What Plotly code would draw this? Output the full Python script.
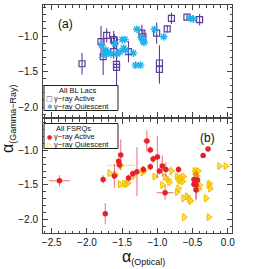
import plotly.graph_objects as go

# ---- Data ----
# Panel (a): BL Lacs
bl_active_x = [-2.07, -1.80, -1.77, -1.72, -1.62, -1.61, -1.62, -1.58, -1.58, -1.41,
               -1.22, -1.205, -1.01, -0.97, -0.97, -0.86, -0.80, -0.58, -0.40]
bl_active_y = [-1.39, -1.08, -1.29, -0.99, -1.05, -1.07, -1.22, -1.40, -1.44, -1.22,
               -0.96, -1.01, -0.96, -1.38, -1.47, -0.90, -0.75, -0.735, -0.77]
bl_active_yerr = [0.15, 0.22, 0.26, 0.10, 0.12, 0.10, 0.10, 0.15, 0.30, 0.15,
                  0.12, 0.08, 0.15, 0.25, 0.20, 0.05, 0.08, 0.04, 0.08]

bl_quiet_x = [-1.79, -1.73, -1.75, -1.70, -1.66, -1.60, -1.57, -1.53, -1.50, -1.46,
              -1.48, -1.45, -1.34, -1.31, -1.24, -1.29, -1.23, -1.20, -1.19, -1.04,
              -0.91, -0.53, -0.49]
bl_quiet_y = [-1.13, -1.20, -1.25, -1.24, -1.25, -1.11, -1.25, -1.22, -1.05, -1.05,
              -1.17, -1.20, -1.24, -1.41, -1.41, -0.905, -1.02, -1.07, -1.09, -0.905,
              -1.01, -0.75, -0.76]

# Panel (b): FSRQs
fsrq_active_x = [-2.39, -1.77, -1.74, -1.61, -1.55, -1.52, -1.54, -1.41, -1.35, -1.29,
                 -1.20, -1.15, -1.10, -1.06, -1.00, -1.10, -0.97, -0.93, -0.88, -0.89,
                 -0.70, -0.48, -0.48, -0.45, -0.45, -0.43, -0.35, -0.28]
fsrq_active_y = [-1.44, -1.42, -1.91, -1.37, -1.16, -1.07, -1.21, -1.40, -1.34, -1.31,
                 -1.28, -0.87, -1.00, -1.13, -1.10, -1.24, -1.30, -1.23, -1.28, -1.61,
                 -1.28, -1.42, -1.49, -1.50, -1.57, -1.43, -1.08, -0.985]
fsrq_active_xerr = [0.15, 0.02, 0.02, 0.05, 0.02, 0.02, 0.02, 0.02, 0.02, 0.02,
                    0.02, 0.05, 0.02, 0.02, 0.02, 0.02, 0.02, 0.02, 0.05, 0.12,
                    0.02, 0.02, 0.02, 0.02, 0.02, 0.02, 0.02, 0.02]
fsrq_active_yerr = [0.08, 0.06, 0.15, 0.17, 0.05, 0.22, 0.05, 0.05, 0.05, 0.35,
                    0.05, 0.15, 0.05, 0.05, 0.30, 0.05, 0.05, 0.15, 0.10, 0.10,
                    0.05, 0.10, 0.10, 0.20, 0.15, 0.10, 0.03, 0.03]

fsrq_quiet_x = [-1.68, -1.60, -1.52, -1.53, -1.47, -1.44, -1.42, -1.34, -1.21, -1.19,
                -1.04, -0.93, -0.89, -0.85, -0.83, -0.80, -0.72, -0.70, -0.68, -0.66,
                -0.64, -0.63, -0.70, -0.72, -0.63, -0.58, -0.55, -0.53, -0.62, -0.47,
                -0.45, -0.44, -0.42, -0.40, -0.41, -0.31, -0.26, -0.25, -0.27, -0.27,
                -0.12, -0.03]
fsrq_quiet_y = [-1.33, -1.35, -1.22, -1.49, -1.48, -1.49, -1.47, -1.37, -1.32, -1.29,
                -1.38, -1.50, -1.39, -1.42, -1.46, -1.30, -1.38, -1.41, -1.44, -1.40,
                -1.45, -1.38, -1.55, -1.60, -1.69, -1.66, -1.70, -1.73, -1.96, -1.30,
                -1.32, -1.37, -1.30, -1.50, -1.55, -1.69, -1.48, -1.55, -1.50, -1.96,
                -1.23, -1.23]
fsrq_quiet_xerr = [0.04, 0.04, 0.20, 0.04, 0.04, 0.04, 0.04, 0.04, 0.04, 0.04,
                   0.04, 0.04, 0.04, 0.04, 0.04, 0.04, 0.04, 0.04, 0.04, 0.04,
                   0.04, 0.04, 0.04, 0.04, 0.04, 0.04, 0.04, 0.04, 0.04, 0.04,
                   0.04, 0.04, 0.04, 0.04, 0.04, 0.04, 0.04, 0.04, 0.04, 0.04,
                   0.04, 0.04]
fsrq_quiet_yerr = [0.05, 0.05, 0.05, 0.05, 0.05, 0.05, 0.05, 0.05, 0.05, 0.05,
                   0.05, 0.05, 0.05, 0.05, 0.05, 0.08, 0.05, 0.05, 0.05, 0.05,
                   0.05, 0.05, 0.05, 0.05, 0.05, 0.05, 0.05, 0.05, 0.05, 0.05,
                   0.08, 0.05, 0.05, 0.05, 0.05, 0.05, 0.05, 0.05, 0.05, 0.05,
                   0.03, 0.03]

x_ticks = [-2.5, -2.0, -1.5, -1.0, -0.5, 0.0]
y_ticks = [-2.0, -1.5, -1.0]

legend_a_title = "All BL Lacs"
legend_b_title = "All FSRQs"
label_active = "γ−ray Active"
label_quiet = "γ−ray Quiescent"

PURPLE = "#5a3c9c"
CYAN = "#1fb4ea"
RED = "#e3222b"
YELLOW = "#f7c200"
FONT = "Liberation Sans, Arial, sans-serif"
TXT = "#111"

# plot-area geometry (pixels)
L, R, T, B = 43, 37, 5, 36
W = H = 269
PW = W - L - R
PH = H - T - B


def px(xp):
    return (xp - L) / PW


def py(yp):
    return (H - B - yp) / PH


fig = go.Figure()

fig.add_trace(go.Scatter(
    x=bl_active_x, y=bl_active_y, mode="markers", name=label_active,
    xaxis="x", yaxis="y", showlegend=False,
    marker=dict(symbol="square-open", size=6, color=PURPLE, line=dict(width=1.2)),
    error_y=dict(type="data", array=bl_active_yerr, color=PURPLE, thickness=1.1, width=0),
))
fig.add_trace(go.Scatter(
    x=bl_quiet_x, y=bl_quiet_y, mode="markers", name=label_quiet,
    xaxis="x", yaxis="y", showlegend=False,
    marker=dict(symbol="asterisk-open", size=6.5, color=CYAN, line=dict(width=1.4, color=CYAN)),
))
fig.add_trace(go.Scatter(
    x=fsrq_quiet_x, y=fsrq_quiet_y, mode="markers", name=label_quiet,
    xaxis="x2", yaxis="y2", showlegend=False,
    marker=dict(symbol="triangle-right-open", size=6, color=YELLOW, line=dict(width=1.2)),
    error_x=dict(type="data", array=fsrq_quiet_xerr, color="rgba(247,194,0,0.55)", thickness=1.1, width=0),
    error_y=dict(type="data", array=fsrq_quiet_yerr, color="rgba(247,194,0,0.55)", thickness=1.1, width=0),
))
fig.add_trace(go.Scatter(
    x=fsrq_active_x, y=fsrq_active_y, mode="markers", name=label_active,
    xaxis="x2", yaxis="y2", showlegend=False,
    marker=dict(symbol="circle", size=5.5, color=RED),
    error_x=dict(type="data", array=fsrq_active_xerr, color="rgba(227,34,43,0.6)", thickness=1.1, width=0),
    error_y=dict(type="data", array=fsrq_active_yerr, color="rgba(227,34,43,0.6)", thickness=1.1, width=0),
))

axis_common = dict(
    showline=True, linecolor="#444", linewidth=1, mirror="allticks",
    ticks="inside", ticklen=5, tickwidth=1, tickcolor="#444",
    showgrid=False, zeroline=False,
    tickfont=dict(family=FONT, size=10, color=TXT),
    minor=dict(ticks="inside", ticklen=2.5, tickwidth=1, tickcolor="#444", dtick=0.1, showgrid=False),
)

xr = [-2.624, 0.06]

shapes = []
annotations = []

# legend boxes
for (y0, y1) in [(85.5, 110.5), (123.5, 148.5)]:
    shapes.append(dict(type="rect", xref="paper", yref="paper",
                       x0=px(44), x1=px(118), y0=py(y1), y1=py(y0),
                       line=dict(color="#222", width=1), fillcolor="white", layer="above"))

LF = 7.5


def ltext(text, xp, yp, anchor="left"):
    annotations.append(dict(text=text, x=px(xp), y=py(yp), xref="paper", yref="paper",
                            showarrow=False, xanchor=anchor, yanchor="middle", borderpad=0,
                            font=dict(family=FONT, size=LF, color=TXT)))


def lsym(sym, color, xp, yp, size=7):
    annotations.append(dict(text=sym, x=px(xp), y=py(yp), xref="paper", yref="paper",
                            showarrow=False, xanchor="center", yanchor="middle", borderpad=0,
                            font=dict(family="DejaVu Sans", size=size, color=color)))


ltext(legend_a_title, 77, 90.5, anchor="center")
lsym("□", PURPLE, 49.5, 98.5, 7)
ltext(label_active, 53, 98.5)
lsym("✱", CYAN, 49.5, 106.5, 6.5)
ltext(label_quiet, 53, 106.5)

ltext(legend_b_title, 73, 128.5, anchor="center")
lsym("●", RED, 49.5, 136.5, 6)
ltext(label_active, 53, 136.5)
lsym("▷", YELLOW, 49.5, 144.5, 6.5)
ltext(label_quiet, 53, 144.5)

annotations += [
    dict(text="(a)", x=-2.30, y=-0.83, xref="x", yref="y", showarrow=False,
         font=dict(family=FONT, size=12, color=TXT)),
    dict(text="(b)", x=-0.29, y=-0.83, xref="x2", yref="y2", showarrow=False,
         font=dict(family=FONT, size=12, color=TXT)),
    dict(text="α<sub><span style='font-size:9px'>(Gamma−Ray)</span></sub>", x=px(8), y=py(119),
         xref="paper", yref="paper", textangle=-90, showarrow=False,
         xanchor="center", yanchor="middle", font=dict(family=FONT, size=16, color=TXT)),
    dict(text="α<sub><span style='font-size:9px'>(Optical)</span></sub>", x=px(143), y=py(257),
         xref="paper", yref="paper", showarrow=False,
         xanchor="center", yanchor="middle", font=dict(family=FONT, size=16, color=TXT)),
]

fig.update_layout(
    width=W, height=H,
    margin=dict(l=L, r=R, t=T, b=B),
    paper_bgcolor="white", plot_bgcolor="white",
    font=dict(family=FONT, size=10, color=TXT),
    showlegend=False,
    xaxis=dict(domain=[0, 1], anchor="y", range=xr, tickvals=x_ticks, showticklabels=False, **axis_common),
    yaxis=dict(domain=[py(117), 1], anchor="x", range=[-2.14, -0.563], tickvals=y_ticks,
               tickformat=".1f", ticklabelstandoff=2, **axis_common),
    xaxis2=dict(domain=[0, 1], anchor="y2", range=xr, tickvals=x_ticks, tickformat=".1f", **axis_common),
    yaxis2=dict(domain=[0, py(119)], anchor="x2", range=[-2.186, -0.557], tickvals=y_ticks,
                tickformat=".1f", ticklabelstandoff=2, **axis_common),
    shapes=shapes,
    annotations=annotations,
)

# remove the browser's default page margin so the figure sits at the window origin
fig.write_html("out.html", config={"displayModeBar": False},
               post_script="document.body.style.margin='0';")
